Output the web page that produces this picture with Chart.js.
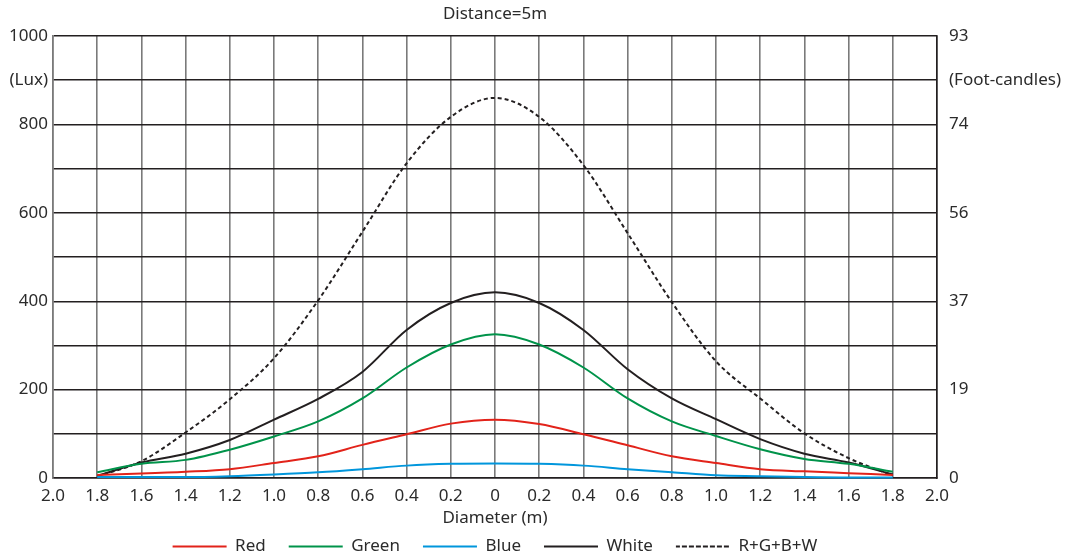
<!DOCTYPE html>
<html>
<head>
<meta charset="utf-8">
<script src="https://cdn.jsdelivr.net/npm/chart.js@4.4.1/dist/chart.umd.min.js"></script>
<style>
    body { margin: 0; background: #fff; }
</style>
</head>
<body>
<canvas id="chart" width="1065" height="558"></canvas>
<script>
// Diameter positions (m), centre = 0
const positions = [-1.8, -1.6, -1.4, -1.2, -1.0, -0.8, -0.6, -0.4, -0.2, 0, 0.2, 0.4, 0.6, 0.8, 1.0, 1.2, 1.4, 1.6, 1.8];

// Illuminance in lux
const redLux   = [7, 10, 14, 20, 34, 49, 75, 99, 123, 132, 122, 99, 74, 49, 34, 20, 15, 11, 7];
const greenLux = [13, 32, 41, 64, 94, 128, 180, 250, 302, 325, 302, 250, 180, 128, 95, 65, 43, 32, 14];
const blueLux  = [2, 2, 2, 4, 8, 13, 20, 28, 32, 33, 32, 28, 20, 13, 6, 4, 2, 1, 1];
const whiteLux = [5, 35, 55, 86, 132, 179, 240, 335, 396, 420, 396, 335, 246, 180, 133, 88, 55, 35, 8];
const totalLux = [4, 38, 103, 178, 271, 402, 557, 712, 817, 860, 817, 708, 554, 398, 264, 180, 101, 45, 6];

// Axis ticks
const xTicks = [-2.0, -1.8, -1.6, -1.4, -1.2, -1.0, -0.8, -0.6, -0.4, -0.2, 0, 0.2, 0.4, 0.6, 0.8, 1.0, 1.2, 1.4, 1.6, 1.8, 2.0];
const xTickLabels = ['2.0', '1.8', '1.6', '1.4', '1.2', '1.0', '0.8', '0.6', '0.4', '0.2', '0', '0.2', '0.4', '0.6', '0.8', '1.0', '1.2', '1.4', '1.6', '1.8', '2.0'];
const yTicks = [0, 100, 200, 300, 400, 500, 600, 700, 800, 900, 1000];
const luxLabels = ['0', '', '200', '', '400', '', '600', '', '800', '(Lux)', '1000'];
const fcLabels = ['0', '', '19', '', '37', '', '56', '', '74', '(Foot-candles)', '93'];

const FONT = 'Noto Sans, sans-serif';
const SIZE = 17;
const TEXT = '#2b2b2b';

function series(label, values, color, dash) {
    return {
        label: label,
        data: positions.map((x, i) => ({ x: x, y: values[i] })),
        borderColor: color,
        backgroundColor: color,
        borderWidth: 2,
        borderDash: dash || [],
        pointRadius: 0,
        cubicInterpolationMode: 'monotone',
        clip: false,
    };
}

const ctx = document.getElementById('chart').getContext('2d');
new Chart(ctx, {
    type: 'line',
    data: {
        datasets: [
            series('Red', redLux, '#e2231a'),
            series('Green', greenLux, '#00934a'),
            series('Blue', blueLux, '#0096dc'),
            series('White', whiteLux, '#231f20'),
            series('R+G+B+W', totalLux, '#231f20', [4, 3]),
        ],
    },
    options: {
        responsive: false,
        animation: false,
        layout: { padding: 0 },
        plugins: {
            legend: {
                position: 'bottom',
                fullSize: false, // centre under the plot, not the canvas
                maxHeight: 43,
                labels: {
                    color: TEXT,
                    font: { family: FONT, size: SIZE },
                    boxWidth: 54,
                    boxHeight: 0,
                    padding: 23,
                },
            },
            tooltip: { enabled: false },
        },
        scales: {
            // top axis only carries the title, so it is centred over the plot
            top: {
                type: 'linear',
                position: 'top',
                min: -2,
                max: 2,
                afterFit: (scale) => { scale.height = 36; },
                ticks: { display: false },
                grid: { display: false, drawTicks: false },
                border: { display: false },
                title: {
                    display: true,
                    text: 'Distance=5m',
                    color: TEXT,
                    font: { family: FONT, size: SIZE },
                    padding: { top: 4, bottom: 0 },
                },
            },
            x: {
                type: 'linear',
                min: -2,
                max: 2,
                afterBuildTicks: (scale) => {
                    scale.ticks = xTicks.map(v => ({ value: v }));
                },
                afterFit: (scale) => { scale.height = 37; },
                ticks: {
                    color: TEXT,
                    font: { family: FONT, size: SIZE },
                    padding: 8,
                    maxRotation: 0,
                    autoSkip: false,
                    callback: (value, index) => xTickLabels[index],
                },
                grid: { color: '#7a7a7a', lineWidth: 1.6, drawTicks: false },
                border: { color: '#231f20', width: 1.6 },
                title: {
                    display: true,
                    text: 'Diameter (m)',
                    color: TEXT,
                    font: { family: FONT, size: SIZE },
                    padding: { top: 0, bottom: -13 },
                },
            },
            y: {
                min: 0,
                max: 1000,
                afterBuildTicks: (scale) => {
                    scale.ticks = yTicks.map(v => ({ value: v }));
                },
                afterFit: (scale) => { scale.width = 53; },
                ticks: {
                    color: TEXT,
                    font: { family: FONT, size: SIZE },
                    padding: 5,
                    autoSkip: false,
                    callback: (value, index) => luxLabels[index],
                },
                grid: { color: '#231f20', lineWidth: 1.4, drawTicks: false },
                border: { color: '#7a7a7a', width: 1.6 },
            },
            y2: {
                position: 'right',
                min: 0,
                max: 1000,
                afterBuildTicks: (scale) => {
                    scale.ticks = yTicks.map(v => ({ value: v }));
                },
                afterFit: (scale) => { scale.width = 128; },
                ticks: {
                    color: TEXT,
                    font: { family: FONT, size: SIZE },
                    padding: 12,
                    autoSkip: false,
                    callback: (value, index) => fcLabels[index],
                },
                grid: { display: false, drawTicks: false },
                border: { color: '#231f20', width: 1.6 },
            },
        },
    },
});
</script>
</body>
</html>
